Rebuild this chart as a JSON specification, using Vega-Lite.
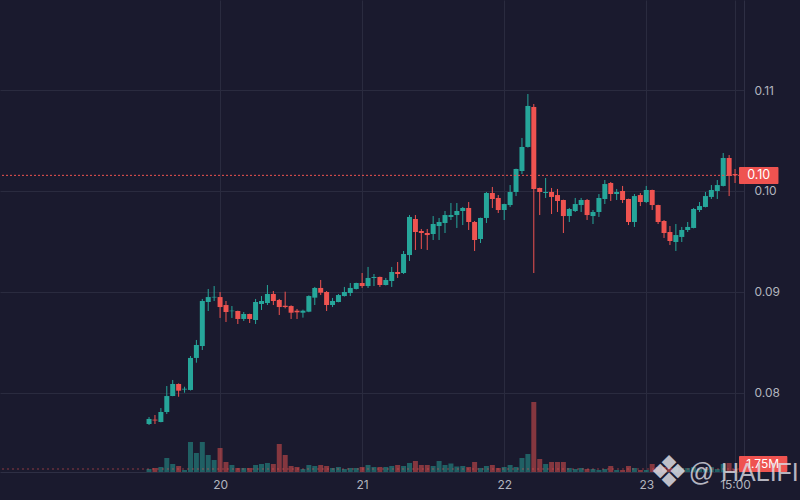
{
  "$schema": "https://vega.github.io/schema/vega-lite/v6.json",
  "width": 744,
  "height": 472,
  "autosize": {"type": "none"},
  "padding": {"left": 0, "top": 0, "right": 56, "bottom": 28},
  "background": "#1a1a2e",
  "config": {
    "view": {"stroke": null},
    "axis": {
      "labelFont": "Inter",
      "labelFontSize": 12,
      "labelColor": "#b2b5be",
      "gridColor": "#2a2b3f",
      "domainColor": "#2e2f44",
      "ticks": false,
      "title": null
    },
    "text": {"font": "Inter"}
  },
  "data": {
    "values": [
      {"t": "2024-03-19T12:00Z", "open": 0.07693, "high": 0.07762, "low": 0.07683, "close": 0.07743, "volume": 1750000},
      {"t": "2024-03-19T13:00Z", "open": 0.07736, "high": 0.07782, "low": 0.07693, "close": 0.07728, "volume": 2330000},
      {"t": "2024-03-19T14:00Z", "open": 0.07713, "high": 0.07851, "low": 0.0771, "close": 0.07812, "volume": 2920000},
      {"t": "2024-03-19T15:00Z", "open": 0.07812, "high": 0.08069, "low": 0.07792, "close": 0.0797, "volume": 8170000},
      {"t": "2024-03-19T16:00Z", "open": 0.0797, "high": 0.08129, "low": 0.07968, "close": 0.08089, "volume": 4670000},
      {"t": "2024-03-19T17:00Z", "open": 0.08089, "high": 0.08095, "low": 0.07963, "close": 0.08023, "volume": 3500000},
      {"t": "2024-03-19T18:00Z", "open": 0.08034, "high": 0.08062, "low": 0.08003, "close": 0.08042, "volume": 1170000},
      {"t": "2024-03-19T19:00Z", "open": 0.0803, "high": 0.08366, "low": 0.08025, "close": 0.08347, "volume": 17500000},
      {"t": "2024-03-19T20:00Z", "open": 0.08347, "high": 0.08525, "low": 0.083, "close": 0.08475, "volume": 11080000},
      {"t": "2024-03-19T21:00Z", "open": 0.08465, "high": 0.08931, "low": 0.08426, "close": 0.08911, "volume": 17500000},
      {"t": "2024-03-19T22:00Z", "open": 0.08901, "high": 0.0903, "low": 0.08812, "close": 0.0895, "volume": 9920000},
      {"t": "2024-03-19T23:00Z", "open": 0.08946, "high": 0.09059, "low": 0.08911, "close": 0.08952, "volume": 7000000},
      {"t": "2024-03-20T00:00Z", "open": 0.0895, "high": 0.09, "low": 0.08743, "close": 0.08851, "volume": 14000000},
      {"t": "2024-03-20T01:00Z", "open": 0.08871, "high": 0.08911, "low": 0.08703, "close": 0.08802, "volume": 5830000},
      {"t": "2024-03-20T02:00Z", "open": 0.0881, "high": 0.08861, "low": 0.08743, "close": 0.08815, "volume": 4080000},
      {"t": "2024-03-20T03:00Z", "open": 0.08812, "high": 0.08815, "low": 0.08683, "close": 0.08733, "volume": 2330000},
      {"t": "2024-03-20T04:00Z", "open": 0.08733, "high": 0.08802, "low": 0.08713, "close": 0.08782, "volume": 2330000},
      {"t": "2024-03-20T05:00Z", "open": 0.08782, "high": 0.08785, "low": 0.08693, "close": 0.08733, "volume": 2330000},
      {"t": "2024-03-20T06:00Z", "open": 0.08723, "high": 0.08931, "low": 0.08683, "close": 0.08901, "volume": 4080000},
      {"t": "2024-03-20T07:00Z", "open": 0.08881, "high": 0.0896, "low": 0.08822, "close": 0.08911, "volume": 4670000},
      {"t": "2024-03-20T08:00Z", "open": 0.08891, "high": 0.09069, "low": 0.08871, "close": 0.0898, "volume": 5250000},
      {"t": "2024-03-20T09:00Z", "open": 0.0898, "high": 0.0901, "low": 0.08871, "close": 0.08911, "volume": 4670000},
      {"t": "2024-03-20T10:00Z", "open": 0.08921, "high": 0.08931, "low": 0.08772, "close": 0.08851, "volume": 16330000},
      {"t": "2024-03-20T11:00Z", "open": 0.08864, "high": 0.09003, "low": 0.08838, "close": 0.08851, "volume": 9920000},
      {"t": "2024-03-20T12:00Z", "open": 0.08861, "high": 0.08868, "low": 0.08733, "close": 0.08795, "volume": 3500000},
      {"t": "2024-03-20T13:00Z", "open": 0.08815, "high": 0.08832, "low": 0.08733, "close": 0.08799, "volume": 2920000},
      {"t": "2024-03-20T14:00Z", "open": 0.08795, "high": 0.08825, "low": 0.08746, "close": 0.08815, "volume": 1750000},
      {"t": "2024-03-20T15:00Z", "open": 0.08805, "high": 0.08967, "low": 0.088, "close": 0.0896, "volume": 4080000},
      {"t": "2024-03-20T16:00Z", "open": 0.08944, "high": 0.0905, "low": 0.08871, "close": 0.0904, "volume": 3500000},
      {"t": "2024-03-20T17:00Z", "open": 0.0904, "high": 0.09119, "low": 0.0897, "close": 0.08993, "volume": 4080000},
      {"t": "2024-03-20T18:00Z", "open": 0.09, "high": 0.0901, "low": 0.08812, "close": 0.08871, "volume": 3500000},
      {"t": "2024-03-20T19:00Z", "open": 0.08871, "high": 0.08941, "low": 0.08851, "close": 0.08911, "volume": 2330000},
      {"t": "2024-03-20T20:00Z", "open": 0.08901, "high": 0.0898, "low": 0.08898, "close": 0.0897, "volume": 2920000},
      {"t": "2024-03-20T21:00Z", "open": 0.0896, "high": 0.0905, "low": 0.08955, "close": 0.09, "volume": 1750000},
      {"t": "2024-03-20T22:00Z", "open": 0.0899, "high": 0.09089, "low": 0.0896, "close": 0.0904, "volume": 2330000},
      {"t": "2024-03-20T23:00Z", "open": 0.0903, "high": 0.09092, "low": 0.09025, "close": 0.09089, "volume": 2330000},
      {"t": "2024-03-21T00:00Z", "open": 0.09089, "high": 0.09188, "low": 0.0904, "close": 0.09059, "volume": 2920000},
      {"t": "2024-03-21T01:00Z", "open": 0.09059, "high": 0.09248, "low": 0.0904, "close": 0.09139, "volume": 4080000},
      {"t": "2024-03-21T02:00Z", "open": 0.09139, "high": 0.09178, "low": 0.09059, "close": 0.09149, "volume": 2920000},
      {"t": "2024-03-21T03:00Z", "open": 0.09149, "high": 0.09152, "low": 0.0905, "close": 0.09069, "volume": 2920000},
      {"t": "2024-03-21T04:00Z", "open": 0.09069, "high": 0.09139, "low": 0.09065, "close": 0.09119, "volume": 2920000},
      {"t": "2024-03-21T05:00Z", "open": 0.09109, "high": 0.09248, "low": 0.0905, "close": 0.09198, "volume": 3500000},
      {"t": "2024-03-21T06:00Z", "open": 0.09198, "high": 0.09297, "low": 0.09139, "close": 0.09178, "volume": 4080000},
      {"t": "2024-03-21T07:00Z", "open": 0.09188, "high": 0.09406, "low": 0.09178, "close": 0.09376, "volume": 3500000},
      {"t": "2024-03-21T08:00Z", "open": 0.09366, "high": 0.09762, "low": 0.09307, "close": 0.09743, "volume": 5250000},
      {"t": "2024-03-21T09:00Z", "open": 0.09723, "high": 0.09762, "low": 0.09416, "close": 0.09594, "volume": 6420000},
      {"t": "2024-03-21T10:00Z", "open": 0.09604, "high": 0.09624, "low": 0.09426, "close": 0.09584, "volume": 4080000},
      {"t": "2024-03-21T11:00Z", "open": 0.09584, "high": 0.09624, "low": 0.09416, "close": 0.09564, "volume": 4080000},
      {"t": "2024-03-21T12:00Z", "open": 0.09574, "high": 0.09752, "low": 0.09515, "close": 0.09673, "volume": 3500000},
      {"t": "2024-03-21T13:00Z", "open": 0.09653, "high": 0.09733, "low": 0.09515, "close": 0.09693, "volume": 6420000},
      {"t": "2024-03-21T14:00Z", "open": 0.09683, "high": 0.09802, "low": 0.09584, "close": 0.09762, "volume": 4080000},
      {"t": "2024-03-21T15:00Z", "open": 0.09743, "high": 0.09881, "low": 0.09713, "close": 0.09762, "volume": 4960000},
      {"t": "2024-03-21T16:00Z", "open": 0.09762, "high": 0.09881, "low": 0.09634, "close": 0.09802, "volume": 3210000},
      {"t": "2024-03-21T17:00Z", "open": 0.09802, "high": 0.09842, "low": 0.09663, "close": 0.09832, "volume": 3500000},
      {"t": "2024-03-21T18:00Z", "open": 0.09832, "high": 0.09891, "low": 0.09614, "close": 0.09693, "volume": 2920000},
      {"t": "2024-03-21T19:00Z", "open": 0.09693, "high": 0.09703, "low": 0.09406, "close": 0.09515, "volume": 5830000},
      {"t": "2024-03-21T20:00Z", "open": 0.09525, "high": 0.09736, "low": 0.09485, "close": 0.09733, "volume": 2330000},
      {"t": "2024-03-21T21:00Z", "open": 0.09733, "high": 0.0999, "low": 0.09683, "close": 0.0998, "volume": 3500000},
      {"t": "2024-03-21T22:00Z", "open": 0.0998, "high": 0.1004, "low": 0.09832, "close": 0.09921, "volume": 4080000},
      {"t": "2024-03-21T23:00Z", "open": 0.09931, "high": 0.0996, "low": 0.09782, "close": 0.09812, "volume": 2330000},
      {"t": "2024-03-22T00:00Z", "open": 0.09812, "high": 0.09874, "low": 0.09713, "close": 0.09871, "volume": 2920000},
      {"t": "2024-03-22T01:00Z", "open": 0.09861, "high": 0.10059, "low": 0.09842, "close": 0.0999, "volume": 4080000},
      {"t": "2024-03-22T02:00Z", "open": 0.0999, "high": 0.10221, "low": 0.0995, "close": 0.10218, "volume": 2920000},
      {"t": "2024-03-22T03:00Z", "open": 0.10198, "high": 0.10525, "low": 0.10168, "close": 0.10436, "volume": 8170000},
      {"t": "2024-03-22T04:00Z", "open": 0.10436, "high": 0.1096, "low": 0.1043, "close": 0.10842, "volume": 10500000},
      {"t": "2024-03-22T05:00Z", "open": 0.10832, "high": 0.10861, "low": 0.09188, "close": 0.1002, "volume": 40830000},
      {"t": "2024-03-22T06:00Z", "open": 0.1003, "high": 0.10033, "low": 0.09762, "close": 0.0999, "volume": 7580000},
      {"t": "2024-03-22T07:00Z", "open": 0.0998, "high": 0.10129, "low": 0.09931, "close": 0.0999, "volume": 4670000},
      {"t": "2024-03-22T08:00Z", "open": 0.0999, "high": 0.1003, "low": 0.09772, "close": 0.09941, "volume": 5830000},
      {"t": "2024-03-22T09:00Z", "open": 0.0996, "high": 0.1002, "low": 0.09792, "close": 0.09901, "volume": 5830000},
      {"t": "2024-03-22T10:00Z", "open": 0.09911, "high": 0.09914, "low": 0.09584, "close": 0.09752, "volume": 5830000},
      {"t": "2024-03-22T11:00Z", "open": 0.09752, "high": 0.09832, "low": 0.09693, "close": 0.09822, "volume": 2330000},
      {"t": "2024-03-22T12:00Z", "open": 0.09802, "high": 0.09931, "low": 0.09792, "close": 0.09871, "volume": 1750000},
      {"t": "2024-03-22T13:00Z", "open": 0.09861, "high": 0.09931, "low": 0.09792, "close": 0.09911, "volume": 2330000},
      {"t": "2024-03-22T14:00Z", "open": 0.09911, "high": 0.09921, "low": 0.09713, "close": 0.09762, "volume": 1750000},
      {"t": "2024-03-22T15:00Z", "open": 0.09752, "high": 0.09812, "low": 0.09673, "close": 0.09792, "volume": 1750000},
      {"t": "2024-03-22T16:00Z", "open": 0.09792, "high": 0.0997, "low": 0.09743, "close": 0.09931, "volume": 1170000},
      {"t": "2024-03-22T17:00Z", "open": 0.09921, "high": 0.10109, "low": 0.09871, "close": 0.10069, "volume": 1750000},
      {"t": "2024-03-22T18:00Z", "open": 0.10079, "high": 0.10089, "low": 0.09901, "close": 0.0997, "volume": 3500000},
      {"t": "2024-03-22T19:00Z", "open": 0.0997, "high": 0.1002, "low": 0.09911, "close": 0.0999, "volume": 1170000},
      {"t": "2024-03-22T20:00Z", "open": 0.1, "high": 0.1005, "low": 0.09881, "close": 0.09911, "volume": 1170000},
      {"t": "2024-03-22T21:00Z", "open": 0.09921, "high": 0.09924, "low": 0.09663, "close": 0.09693, "volume": 3500000},
      {"t": "2024-03-22T22:00Z", "open": 0.09693, "high": 0.0997, "low": 0.09644, "close": 0.0995, "volume": 2330000},
      {"t": "2024-03-22T23:00Z", "open": 0.0996, "high": 0.0998, "low": 0.09851, "close": 0.09891, "volume": 1170000},
      {"t": "2024-03-23T00:00Z", "open": 0.09891, "high": 0.1005, "low": 0.09881, "close": 0.1001, "volume": 1170000},
      {"t": "2024-03-23T01:00Z", "open": 0.1001, "high": 0.10013, "low": 0.09812, "close": 0.09861, "volume": 4670000},
      {"t": "2024-03-23T02:00Z", "open": 0.09861, "high": 0.09864, "low": 0.09673, "close": 0.09693, "volume": 2920000},
      {"t": "2024-03-23T03:00Z", "open": 0.09703, "high": 0.09713, "low": 0.09535, "close": 0.09584, "volume": 2920000},
      {"t": "2024-03-23T04:00Z", "open": 0.09594, "high": 0.09653, "low": 0.09465, "close": 0.09505, "volume": 2330000},
      {"t": "2024-03-23T05:00Z", "open": 0.09495, "high": 0.09673, "low": 0.09406, "close": 0.09564, "volume": 2920000},
      {"t": "2024-03-23T06:00Z", "open": 0.09545, "high": 0.09644, "low": 0.09495, "close": 0.09614, "volume": 2330000},
      {"t": "2024-03-23T07:00Z", "open": 0.09614, "high": 0.09693, "low": 0.09594, "close": 0.09644, "volume": 2330000},
      {"t": "2024-03-23T08:00Z", "open": 0.09634, "high": 0.09832, "low": 0.0963, "close": 0.09822, "volume": 2920000},
      {"t": "2024-03-23T09:00Z", "open": 0.09812, "high": 0.09891, "low": 0.09792, "close": 0.09851, "volume": 1750000},
      {"t": "2024-03-23T10:00Z", "open": 0.09842, "high": 0.0999, "low": 0.09838, "close": 0.0995, "volume": 1750000},
      {"t": "2024-03-23T11:00Z", "open": 0.09941, "high": 0.10059, "low": 0.09921, "close": 0.1001, "volume": 2920000},
      {"t": "2024-03-23T12:00Z", "open": 0.1, "high": 0.10109, "low": 0.09921, "close": 0.10059, "volume": 1750000},
      {"t": "2024-03-23T13:00Z", "open": 0.1005, "high": 0.10376, "low": 0.10045, "close": 0.10327, "volume": 4670000},
      {"t": "2024-03-23T14:00Z", "open": 0.10327, "high": 0.10356, "low": 0.0995, "close": 0.10149, "volume": 5250000},
      {"t": "2024-03-23T15:00Z", "open": 0.10168, "high": 0.10218, "low": 0.10079, "close": 0.10155, "volume": 1750000}
    ]
  },
  "layer": [
    {
      "layer": [
        {
          "mark": {"type": "bar", "width": 5, "opacity": 0.5},
          "encoding": {
            "x": {
              "field": "t",
              "type": "temporal",
              "scale": {
                "type": "utc",
                "domain": [
                  {"year": 2024, "month": 3, "date": 18, "hours": 11, "minutes": 40, "utc": true},
                  {"year": 2024, "month": 3, "date": 23, "hours": 15, "minutes": 40, "utc": true}
                ]
              },
              "axis": {
                "values": [
                  {"year": 2024, "month": 3, "date": 20, "utc": true},
                  {"year": 2024, "month": 3, "date": 21, "utc": true},
                  {"year": 2024, "month": 3, "date": 22, "utc": true},
                  {"year": 2024, "month": 3, "date": 23, "utc": true},
                  {"year": 2024, "month": 3, "date": 23, "hours": 15, "utc": true}
                ],
                "labelExpr": "utchours(datum.value) == 0 ? utcFormat(datum.value, '%d') : utcFormat(datum.value, '%H:%M')",
                "grid": true,
                "domain": true,
                "labelPadding": 7,
                "labelFlush": false,
                "labelOverlap": false
              }
            },
            "y": {
              "field": "volume",
              "type": "quantitative",
              "scale": {"domain": [0, 275330000], "nice": false},
              "axis": null
            },
            "color": {
              "condition": {"test": "datum.close >= datum.open", "value": "#26a69a"},
              "value": "#ef5350"
            }
          }
        },
        {
          "data": {"values": [{}]},
          "mark": {"type": "rule", "color": "#ef5350", "opacity": 0.55, "strokeDash": [2, 3], "strokeWidth": 1},
          "encoding": {"y": {"datum": 1750000, "type": "quantitative"}}
        },
        {
          "data": {"values": [{}]},
          "mark": {"type": "rect", "color": "#ef5350", "cornerRadius": 1},
          "encoding": {
            "x": {"datum": {"year": 2024, "month": 3, "date": 23, "hours": 15, "minutes": 40, "utc": true}, "type": "temporal"},
            "x2": {"datum": {"year": 2024, "month": 3, "date": 23, "hours": 23, "minutes": 50, "utc": true}},
            "y": {"datum": 9330000, "type": "quantitative"},
            "y2": {"datum": 0}
          }
        },
        {
          "data": {"values": [{}]},
          "mark": {"type": "text", "text": "1.75M", "color": "#ffffff", "fontSize": 12, "align": "center", "baseline": "middle"},
          "encoding": {
            "x": {"datum": {"year": 2024, "month": 3, "date": 23, "hours": 19, "minutes": 40, "utc": true}, "type": "temporal"},
            "y": {"datum": 4670000, "type": "quantitative"}
          }
        }
      ]
    },
    {
      "layer": [
        {
          "mark": {"type": "rule", "strokeWidth": 1},
          "encoding": {
            "x": {"field": "t", "type": "temporal"},
            "y": {
              "field": "low",
              "type": "quantitative",
              "scale": {"domain": [0.072178, 0.118911], "zero": false, "nice": false},
              "axis": {
                "orient": "right",
                "values": [0.08, 0.09, 0.1, 0.11],
                "format": ".2f",
                "grid": true,
                "domain": true,
                "labelPadding": 10
              }
            },
            "y2": {"field": "high"},
            "color": {
              "condition": {"test": "datum.close >= datum.open", "value": "#26a69a"},
              "value": "#ef5350"
            }
          }
        },
        {
          "mark": {"type": "bar", "width": 5},
          "encoding": {
            "x": {"field": "t", "type": "temporal"},
            "y": {"field": "open", "type": "quantitative"},
            "y2": {"field": "close"},
            "color": {
              "condition": {"test": "datum.close >= datum.open", "value": "#26a69a"},
              "value": "#ef5350"
            }
          }
        },
        {
          "data": {"values": [{}]},
          "mark": {"type": "rule", "color": "#ef5350", "strokeDash": [2, 2], "strokeWidth": 1},
          "encoding": {"y": {"datum": 0.10155, "type": "quantitative"}}
        },
        {
          "data": {"values": [{}]},
          "mark": {"type": "rect", "color": "#ef5350", "cornerRadius": 1},
          "encoding": {
            "x": {"datum": {"year": 2024, "month": 3, "date": 23, "hours": 15, "minutes": 40, "utc": true}, "type": "temporal"},
            "x2": {"datum": {"year": 2024, "month": 3, "date": 23, "hours": 22, "minutes": 20, "utc": true}},
            "y": {"datum": 0.10238, "type": "quantitative"},
            "y2": {"datum": 0.10069}
          }
        },
        {
          "data": {"values": [{}]},
          "mark": {"type": "text", "text": "0.10", "color": "#ffffff", "fontSize": 12.5, "align": "center", "baseline": "middle"},
          "encoding": {
            "x": {"datum": {"year": 2024, "month": 3, "date": 23, "hours": 19, "utc": true}, "type": "temporal"},
            "y": {"datum": 0.10155, "type": "quantitative"}
          }
        },
        {
          "data": {"values": [{}]},
          "mark": {"type": "text", "text": "❖", "font": "DejaVu Sans", "color": "#dcdce4", "opacity": 0.85, "fontSize": 44, "align": "center", "baseline": "middle"},
          "encoding": {
            "x": {"datum": {"year": 2024, "month": 3, "date": 23, "hours": 3, "minutes": 50, "utc": true}, "type": "temporal"},
            "y": {"datum": 0.07198, "type": "quantitative"}
          }
        },
        {
          "data": {"values": [{}]},
          "mark": {"type": "text", "text": "@ HALIFI", "font": "Liberation Sans", "color": "#dcdce4", "opacity": 0.8, "fontSize": 25, "align": "left", "baseline": "middle"},
          "encoding": {
            "x": {"datum": {"year": 2024, "month": 3, "date": 23, "hours": 7, "minutes": 10, "utc": true}, "type": "temporal"},
            "y": {"datum": 0.07205, "type": "quantitative"}
          }
        }
      ]
    }
  ],
  "resolve": {"scale": {"y": "independent"}}
}
